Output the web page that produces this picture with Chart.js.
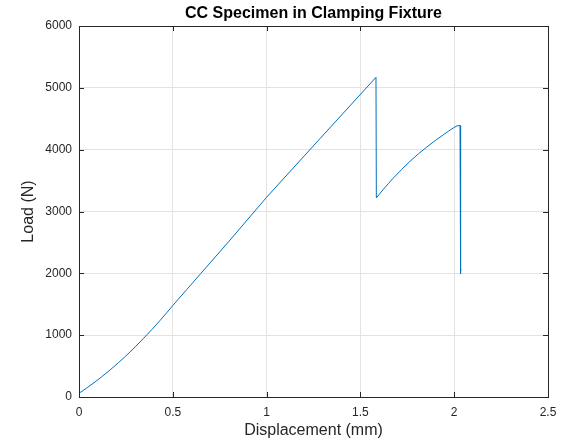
<!DOCTYPE html>
<html>
<head>
<meta charset="utf-8">
<script src="https://cdn.jsdelivr.net/npm/chart.js@4/dist/chart.umd.min.js"></script>
<style>
  html, body { margin: 0; padding: 0; background: #ffffff; }
  #wrap { width: 569px; height: 443px; }
</style>
</head>
<body>
<div id="wrap"><canvas id="c" width="569" height="443"></canvas></div>
<script>
// Load–displacement record of the CC specimen tested in the clamping fixture
const displacement = [0, 0.04, 0.08, 0.12, 0.165, 0.21, 0.25, 0.30, 0.345, 0.39, 0.43, 0.47, 0.50,
                      0.575, 0.65, 0.80, 1.00, 1.285, 1.583,
                      1.585, 1.62, 1.65, 1.675, 1.72, 1.76, 1.81, 1.853, 1.90, 1.942, 1.97, 1.995, 2.015, 2.031,
                      2.032, 2.036, 2.037];
const load = [60, 143, 231, 324, 436, 554, 665, 811, 952, 1096, 1231, 1371, 1480,
              1740, 2000, 2520, 3230, 4180, 5170,
              3220, 3350, 3455, 3540, 3680, 3800, 3935, 4040, 4150, 4240, 4300, 4350, 4385, 4390,
              1990, 2070, 2050];

const xTickValues = [0, 0.5, 1, 1.5, 2, 2.5];
const yTickValues = [0, 1000, 2000, 3000, 4000, 5000, 6000];
const chartTitle = 'CC Specimen in Clamping Fixture';

const points = displacement.map((d, i) => ({ x: d, y: load[i] }));

const AXIS_COLOR = '#262626';
const GRID_COLOR = '#e3e3e3';
const FONT = 'Liberation Sans, Arial, Helvetica, sans-serif';

// Closed box around the plot area with inward-pointing ticks on all four sides,
// plus the bold title centred over the plot area
const boxAndTicks = {
  id: 'boxAndTicks',
  afterDraw(chart) {
    const { ctx, chartArea: a, scales } = chart;
    const len = 5;
    ctx.save();
    ctx.strokeStyle = AXIS_COLOR;
    ctx.lineWidth = 1;
    ctx.beginPath();
    xTickValues.forEach(v => {
      const px = Math.round(scales.x.getPixelForValue(v)) + 0.5;
      ctx.moveTo(px, a.bottom); ctx.lineTo(px, a.bottom - len);
      ctx.moveTo(px, a.top); ctx.lineTo(px, a.top + len);
    });
    yTickValues.forEach(v => {
      const py = Math.round(scales.y.getPixelForValue(v)) + 0.5;
      ctx.moveTo(a.left, py); ctx.lineTo(a.left + len, py);
      ctx.moveTo(a.right, py); ctx.lineTo(a.right - len, py);
    });
    ctx.stroke();
    ctx.strokeRect(Math.round(a.left) + 0.5, Math.round(a.top) + 0.5,
                   Math.round(a.right - a.left), Math.round(a.bottom - a.top));

    ctx.fillStyle = '#000000';
    ctx.font = 'bold 16px ' + FONT;
    ctx.textAlign = 'center';
    ctx.textBaseline = 'middle';
    ctx.fillText(chartTitle, (a.left + a.right) / 2, 13.5);
    ctx.restore();
  }
};

new Chart(document.getElementById('c'), {
  type: 'line',
  data: {
    datasets: [{
      data: points,
      borderColor: '#0072BD',
      borderWidth: 1,
      pointRadius: 0,
      tension: 0,
      fill: false
    }]
  },
  options: {
    responsive: false,
    devicePixelRatio: 1,
    animation: false,
    layout: { padding: { left: 0, right: 21, top: 26, bottom: 0 } },
    plugins: {
      legend: { display: false },
      tooltip: { enabled: false },
      title: { display: false }
    },
    scales: {
      x: {
        type: 'linear',
        min: 0,
        max: 2.5,
        afterBuildTicks: s => { s.ticks = xTickValues.map(v => ({ value: v })); },
        afterFit: s => { s.height = 46; },
        ticks: {
          color: AXIS_COLOR,
          font: { family: FONT, size: 12 },
          padding: 8,
          maxRotation: 0,
          callback: v => String(v)
        },
        grid: { color: GRID_COLOR, drawTicks: false },
        border: { display: false },
        title: {
          display: true,
          text: 'Displacement (mm)',
          color: AXIS_COLOR,
          font: { family: FONT, size: 16 },
          padding: { top: 0, bottom: 3 }
        }
      },
      y: {
        type: 'linear',
        min: 0,
        max: 6000,
        afterBuildTicks: s => { s.ticks = yTickValues.map(v => ({ value: v })); },
        afterFit: s => { s.width = 79; },
        ticks: {
          color: AXIS_COLOR,
          font: { family: FONT, size: 12 },
          padding: 7,
          callback: v => String(v)
        },
        grid: { color: GRID_COLOR, drawTicks: false },
        border: { display: false },
        title: {
          display: true,
          text: 'Load (N)',
          color: AXIS_COLOR,
          font: { family: FONT, size: 16 },
          padding: { top: 19, bottom: 0 }
        }
      }
    }
  },
  plugins: [boxAndTicks]
});
</script>
</body>
</html>
